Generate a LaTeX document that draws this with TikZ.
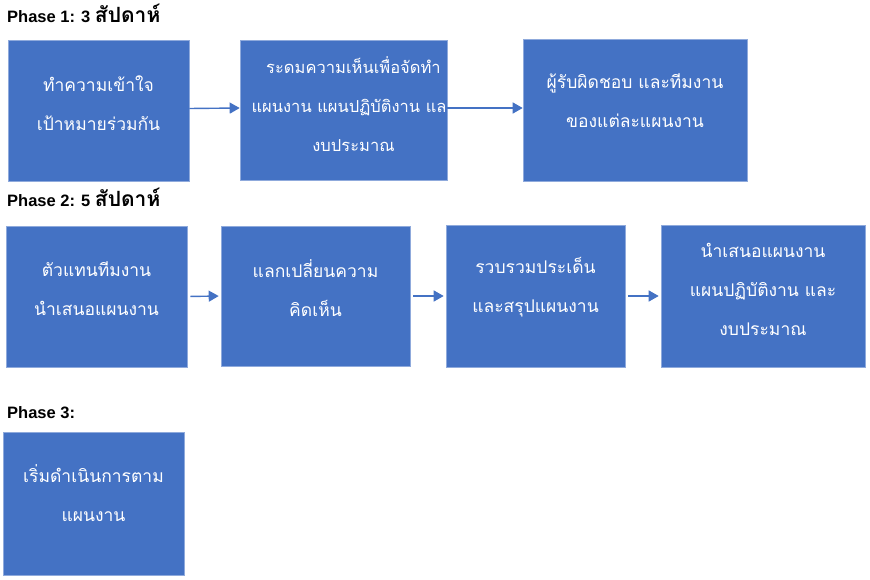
\documentclass[tikz,border=0pt]{standalone}
\usepackage{fontspec}
\setmainfont{Liberation Sans}
\newfontfamily\thaifont[Script=Thai]{Loma}
\usetikzlibrary{arrows.meta}
\definecolor{boxblue}{HTML}{4472C4}
\definecolor{boxedge}{HTML}{8FAADC}
\begin{document}
\begin{tikzpicture}[x=1pt,y=-1pt,
  blk/.style={fill=boxblue,draw=boxedge,line width=0.6pt,inner sep=0pt},
  txt/.style={text=white,align=center,inner sep=0pt,font=\thaifont\fontsize{17.5}{39}\selectfont},
  phase/.style={anchor=base west,inner sep=0pt,font=\bfseries\fontsize{16.5}{18}\selectfont},
  conn/.style={draw=boxblue,line width=1.4pt,-{Triangle[length=10pt,width=11pt]}}]
\useasboundingbox (0,0) rectangle (870,580);

\node[phase] (p1) at (7,23) {Phase 1: 3 {\thaifont\fontsize{21}{18}\selectfont สัปดาห์}};
\node[phase] (p2) at (7,207) {Phase 2: 5 {\thaifont\fontsize{21}{18}\selectfont สัปดาห์}};
\node[phase] (p3) at (7,418) {Phase 3:};

\node[blk,minimum width=181pt,minimum height=141pt] (a1) at (98.5,110.5) {};
\node[blk,minimum width=207pt,minimum height=140pt] (a2) at (343.5,110) {};
\node[blk,minimum width=224pt,minimum height=142pt] (a3) at (635,110) {};

\node[blk,minimum width=181pt,minimum height=141pt] (b1) at (96.5,296.5) {};
\node[blk,minimum width=189pt,minimum height=140pt] (b2) at (315.5,296) {};
\node[blk,minimum width=179pt,minimum height=142pt] (b3) at (535.5,296) {};
\node[blk,minimum width=204pt,minimum height=142pt] (b4) at (763,296) {};

\node[blk,minimum width=181pt,minimum height=143pt] (c1) at (93.5,503.5) {};

\node[txt] (a1t) at ([yshift=7pt]a1.center) {ทำความเข้าใจ\\เป้าหมายร่วมกัน};
\begin{scope}
\clip (a2.south west) rectangle (a2.north east);
\node[txt,font=\thaifont\fontsize{16.5}{39}\selectfont] (a2t) at ([xshift=10pt,yshift=6pt]a2.center) {ระดมความเห็นเพื่อจัดทำ\\แผนงาน แผนปฏิบัติงาน และ\\งบประมาณ};
\end{scope}
\node[txt] (a3t) at ([yshift=9pt]a3.center) {ผู้รับผิดชอบ และทีมงาน\\ของแต่ละแผนงาน};

\node[txt] (b1t) at ([yshift=8pt]b1.center) {ตัวแทนทีมงาน\\นำเสนอแผนงาน};
\node[txt] (b2t) at ([yshift=8pt]b2.center) {แลกเปลี่ยนความ\\คิดเห็น};
\node[txt] (b3t) at ([yshift=9pt]b3.center) {รวบรวมประเด็น\\และสรุปแผนงาน};
\node[txt] (b4t) at ([yshift=7pt]b4.center) {นำเสนอแผนงาน\\แผนปฏิบัติงาน และ\\งบประมาณ};

\node[txt] (c1t) at ([yshift=10pt]c1.center) {เริ่มดำเนินการตาม\\แผนงาน};

\draw[conn] ([yshift=2pt]a1.east) -- ([yshift=2pt]a2.west);
\draw[conn] ([yshift=2pt]a2.east) -- ([yshift=2pt]a3.west);
\draw[conn,shorten <=3pt,shorten >=2pt] (b1.east) -- (b2.west);
\draw[conn,shorten <=3pt,shorten >=2pt] (b2.east) -- (b3.west);
\draw[conn,shorten <=3pt,shorten >=2pt] (b3.east) -- (b4.west);
\end{tikzpicture}
\end{document}
